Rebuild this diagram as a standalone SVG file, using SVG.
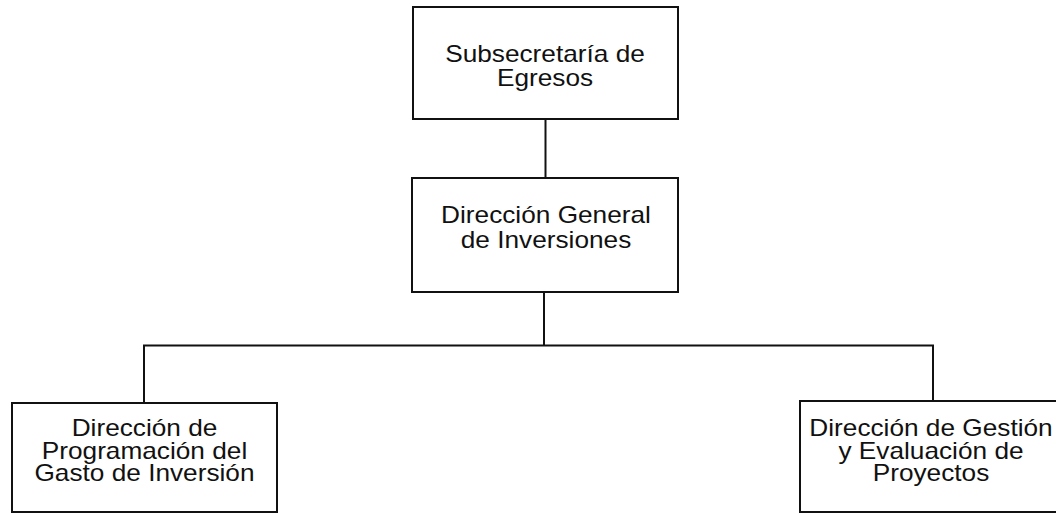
<svg xmlns="http://www.w3.org/2000/svg" width="1056" height="514" viewBox="0 0 1056 514">
<style>
.box{fill:#fff;stroke:#111;stroke-width:2}
.ln{fill:none;stroke:#111;stroke-width:2}
.t{font-family:"Liberation Sans",Arial,sans-serif;font-size:23px;fill:#111;text-anchor:middle}
</style>
<rect width="1056" height="514" fill="#fff"/>
<g id="connectors">
<line class="ln" x1="545.5" y1="119" x2="545.5" y2="178"/>
<line class="ln" x1="544" y1="292" x2="544" y2="346"/>
<line class="ln" x1="143" y1="345.5" x2="934" y2="345.5"/>
<line class="ln" x1="144" y1="345" x2="144" y2="403"/>
<line class="ln" x1="933" y1="345" x2="933" y2="401"/>
</g>
<g id="subsecretaria">
<rect class="box" x="413" y="7" width="265" height="112"/>
<text class="t" transform="translate(545 0) scale(1.14 1)"><tspan x="0" y="62">Subsecretaría de</tspan><tspan x="0" y="86">Egresos</tspan></text>
</g>
<g id="direccion-general">
<rect class="box" x="412" y="178" width="266" height="114"/>
<text class="t" transform="translate(546 0) scale(1.14 1)"><tspan x="0" y="223.5">Dirección General</tspan><tspan x="0" y="248">de Inversiones</tspan></text>
</g>
<g id="programacion">
<rect class="box" x="12" y="403" width="265" height="109"/>
<text class="t" transform="translate(144.5 0) scale(1.14 1)"><tspan x="0" y="436.5">Dirección de</tspan><tspan x="0" y="459">Programación del</tspan><tspan x="0" y="481.5">Gasto de Inversión</tspan></text>
</g>
<g id="gestion">
<rect class="box" x="800" y="401" width="265" height="111"/>
<text class="t" transform="translate(931 0) scale(1.14 1)"><tspan x="0" y="436.5">Dirección de Gestión</tspan><tspan x="0" y="459">y Evaluación de</tspan><tspan x="0" y="481.5">Proyectos</tspan></text>
</g>
</svg>
